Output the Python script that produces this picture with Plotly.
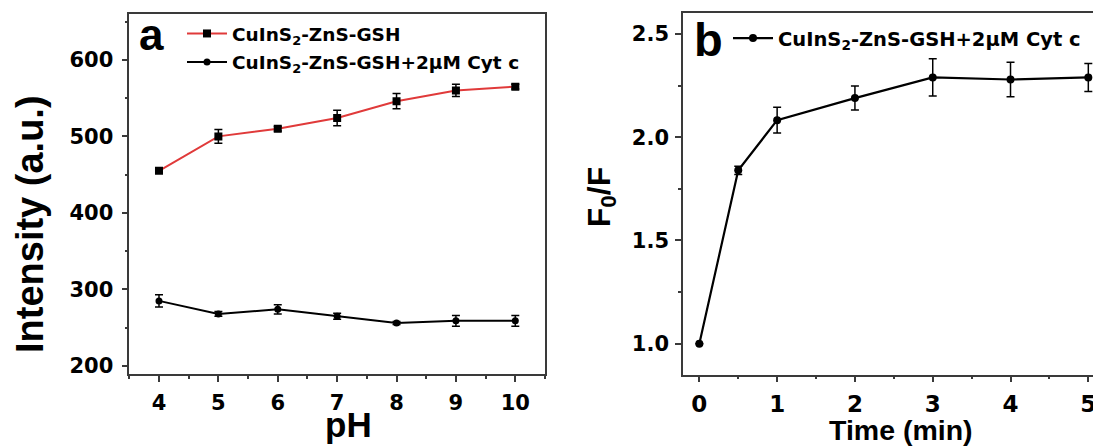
import plotly.graph_objects as go

# Panel a data
ph = [4, 5, 6, 7, 8, 9, 10]
qd_intensity = [455, 500, 510, 524, 546, 560, 565]
qd_err = [2, 9, 3, 10, 10, 8, 3]
qd_cyt_intensity = [285, 268, 274, 265, 256, 259, 259]
qd_cyt_err = [8, 3, 6, 4, 2, 7, 7]

# Panel b data
time_min = [0, 0.5, 1, 2, 3, 4, 5]
f0_f = [1.0, 1.84, 2.083, 2.19, 2.29, 2.28, 2.29]
f0_f_err = [0.0, 0.02, 0.062, 0.058, 0.09, 0.084, 0.068]

# the page body has an 8px margin, so the figure is drawn 8px in from the window
OFF = 8
W, H = 1101 - OFF, 448 - OFF
ARIAL = "Liberation Sans, Arial, sans-serif"
WIDE = "DejaVu Sans, sans-serif"
FRAME = "#3a3a3a"


def px(sx):
    return (sx - OFF) / W


def py(sy):
    return 1 - (sy - OFF) / H


fig = go.Figure()

fig.add_trace(go.Scatter(
    x=ph, y=qd_intensity, mode="lines+markers",
    name="CuInS<sub>2</sub>-ZnS-GSH",
    line=dict(color="#e03a3a", width=2),
    marker=dict(symbol="square", size=8, color="black"),
    error_y=dict(type="data", array=qd_err, color="black", thickness=1.5, width=4),
    xaxis="x", yaxis="y", legend="legend", legendgroup="g1",
))
fig.add_trace(go.Scatter(
    x=ph, y=qd_cyt_intensity, mode="lines+markers",
    name="CuInS<sub>2</sub>-ZnS-GSH+2μM Cyt c",
    line=dict(color="black", width=2),
    marker=dict(symbol="circle", size=7, color="black"),
    error_y=dict(type="data", array=qd_cyt_err, color="black", thickness=1.5, width=4),
    xaxis="x", yaxis="y", legend="legend", legendgroup="g2",
))
fig.add_trace(go.Scatter(
    x=time_min, y=f0_f, mode="lines+markers",
    name="CuInS<sub>2</sub>-ZnS-GSH+2μM Cyt c",
    line=dict(color="black", width=2.2),
    marker=dict(symbol="circle", size=8, color="black"),
    error_y=dict(type="data", array=f0_f_err, color="black", thickness=1.5, width=4),
    xaxis="x2", yaxis="y2", legend="legend2",
))


def tf(size):
    return dict(family=WIDE, size=size, color="black", weight=700)


def axis_style(**kw):
    d = dict(
        showline=True, linecolor=FRAME, linewidth=1.5,
        ticks="outside", ticklen=6, tickwidth=1.5, tickcolor=FRAME,
        showgrid=False, zeroline=False,
    )
    d.update(kw)
    return d


minor_x = dict(ticks="outside", ticklen=3, tickwidth=1.5, tickcolor=FRAME, dtick=0.5)

fig.update_layout(
    width=W, height=H,
    margin=dict(l=0, r=0, t=0, b=0),
    paper_bgcolor="white", plot_bgcolor="white",
    xaxis=axis_style(domain=[px(129.3), px(545)], range=[3.5, 10.5], dtick=1,
                     mirror=True, anchor="y", minor=minor_x, tickfont=tf(21),
                     ticklabelstandoff=3),
    yaxis=axis_style(domain=[py(377.7), py(14)], range=[189, 660], dtick=100,
                     mirror=True, anchor="x", tickfont=tf(21), ticklabelstandoff=4,
                     minor=dict(ticks="outside", ticklen=3, tickwidth=1.5, tickcolor=FRAME, dtick=50)),
    xaxis2=axis_style(domain=[px(683), 1.0], range=[-0.21, 5.163], dtick=1,
                      mirror=True, anchor="y2", minor=minor_x, tickfont=tf(23),
                      ticklabelstandoff=2),
    yaxis2=axis_style(domain=[py(378), py(13.5)], range=[0.85, 2.6], dtick=0.5,
                      tickformat=".1f", anchor="x2", tickfont=tf(21), ticklabelstandoff=2,
                      minor=dict(ticks="outside", ticklen=3, tickwidth=1.5, tickcolor=FRAME, dtick=0.25)),
    legend=dict(x=px(182), y=py(15), xanchor="left", yanchor="top",
                bgcolor="rgba(0,0,0,0)", tracegroupgap=1.5, itemwidth=40,
                font=dict(family=WIDE, size=18.5, color="black", weight=700)),
    legend2=dict(x=px(728), y=py(19), xanchor="left", yanchor="top",
                 bgcolor="rgba(0,0,0,0)", itemwidth=40,
                 font=dict(family=WIDE, size=19.5, color="black", weight=700)),
    showlegend=True,
)

annotations = [
    dict(text="a", x=px(151), y=py(35), xref="paper", yref="paper",
         xanchor="center", yanchor="middle", showarrow=False,
         font=dict(family=ARIAL, size=44, color="black", weight=700)),
    dict(text="b", x=px(708), y=py(40), xref="paper", yref="paper",
         xanchor="center", yanchor="middle", showarrow=False,
         font=dict(family=ARIAL, size=47, color="black", weight=700)),
    dict(text="Intensity (a.u.)", x=px(30), y=py(226), xref="paper", yref="paper",
         xanchor="center", yanchor="middle", showarrow=False, textangle=-90,
         font=dict(family=ARIAL, size=38, color="black", weight=700)),
    dict(text="pH", x=px(348), y=py(428), xref="paper", yref="paper",
         xanchor="center", yanchor="middle", showarrow=False,
         font=dict(family=ARIAL, size=35, color="black", weight=700)),
    dict(text="F<sub>0</sub>/F", x=px(601), y=py(199), xref="paper", yref="paper",
         xanchor="center", yanchor="middle", showarrow=False, textangle=-90,
         font=dict(family=ARIAL, size=32, color="black", weight=700)),
    dict(text="Time (min)", x=px(901), y=py(434), xref="paper", yref="paper",
         xanchor="center", yanchor="middle", showarrow=False,
         font=dict(family=ARIAL, size=28.5, color="black", weight=700)),
]
fig.update_layout(annotations=annotations)

fig.write_html("out.html")
